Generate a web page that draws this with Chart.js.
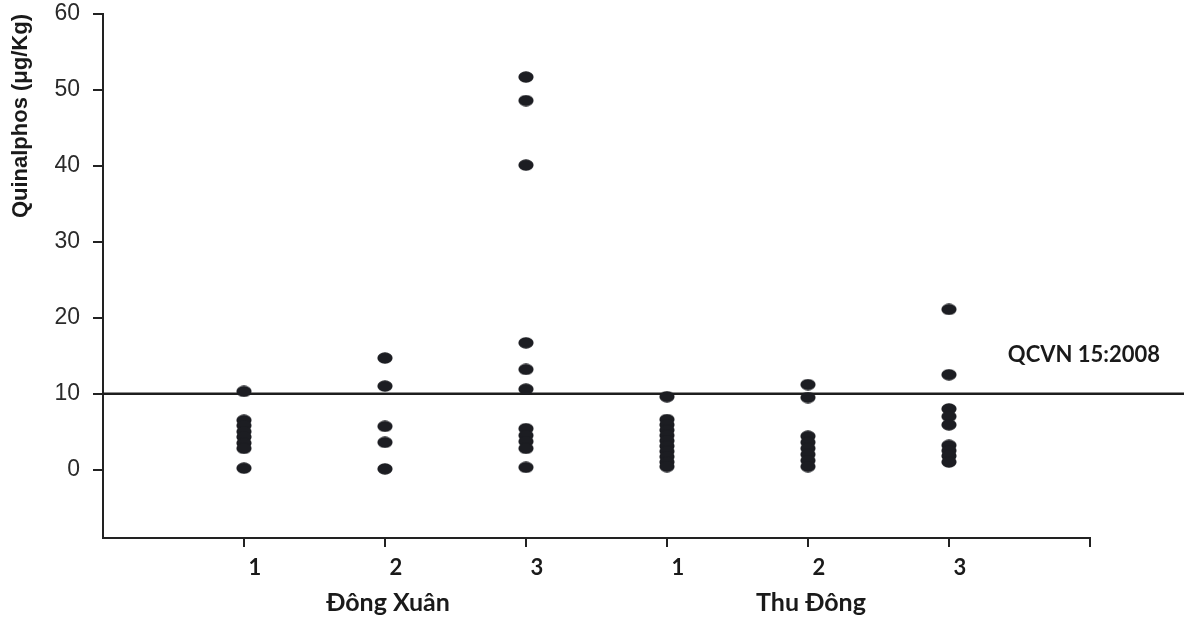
<!DOCTYPE html>
<html><head><meta charset="utf-8">
<script src="https://cdn.jsdelivr.net/npm/chart.js@4/dist/chart.umd.min.js"></script>
<style>html,body{margin:0;padding:0;background:#fff;}#wrap{width:1184px;height:617px;position:relative;}</style>
</head><body><div id="wrap"><canvas id="c"></canvas></div>
<script>
// ---- data ----
const categories = ['1', '2', '3', '1', '2', '3'];
const groups = ['Đông Xuân', 'Thu Đông'];
const groupCenters = [2, 5];
const dongXuan1 = [10.3, 6.5, 5.8, 5.0, 4.3, 3.5, 2.8, 0.2];
const dongXuan2 = [14.7, 11.0, 5.7, 3.6, 0.1];
const dongXuan3 = [51.7, 48.6, 40.1, 16.7, 13.2, 10.6, 5.4, 4.5, 3.7, 2.8, 0.3];
const thuDong1 = [9.6, 6.6, 5.9, 5.2, 4.5, 3.8, 3.1, 2.4, 1.7, 1.0, 0.4];
const thuDong2 = [11.2, 9.5, 4.4, 3.6, 2.8, 2.0, 1.2, 0.4];
const thuDong3 = [21.1, 12.5, 8.0, 7.0, 5.9, 3.2, 2.5, 1.8, 1.0];
const yTickValues = [0, 10, 20, 30, 40, 50, 60];
const limitValue = 10;
const limitLabel = 'QCVN 15:2008';
const yTitle = 'Quinalphos (μg/Kg)';

const seriesValues = [dongXuan1, dongXuan2, dongXuan3, thuDong1, thuDong2, thuDong3];
const points = seriesValues.flatMap((vals, i) => vals.map(v => ({ x: i + 1, y: v })));

// ellipse marker
const dot = document.createElement('canvas');
dot.width = 16; dot.height = 12;
(function () {
  const g = dot.getContext('2d');
  g.fillStyle = '#1c1d22';
  g.beginPath(); g.ellipse(8, 6, 7.6, 5.7, 0, 0, Math.PI * 2); g.fill();
})();

const ink = '#222';
const overlay = {
  id: 'overlay',
  beforeDatasetsDraw(chart) {
    const { ctx, chartArea, scales: { y } } = chart;
    const yy = y.getPixelForValue(limitValue);
    ctx.save();
    ctx.strokeStyle = '#1e1e1e'; ctx.lineWidth = 2.5;
    ctx.beginPath(); ctx.moveTo(chartArea.left, yy); ctx.lineTo(chart.width, yy); ctx.stroke();
    ctx.restore();
  },
  afterDraw(chart) {
    const { ctx, scales: { x, y } } = chart;
    ctx.save();
    ctx.fillStyle = '#1a1a1a';
    ctx.font = 'bold 22px Lato';
    ctx.textAlign = 'right'; ctx.textBaseline = 'middle';
    ctx.fillText(limitLabel, chart.width - 24, y.getPixelForValue(limitValue + 5) - 1);
    ctx.font = 'bold 25px Lato';
    ctx.textAlign = 'center';
    groups.forEach((g, i) => ctx.fillText(g, x.getPixelForValue(groupCenters[i]) + 3, 603));
    ctx.restore();
  }
};

new Chart(document.getElementById('c'), {
  type: 'scatter',
  data: { datasets: [{ data: points, pointStyle: dot, pointRadius: 6, pointHoverRadius: 6 }] },
  options: {
    responsive: true, maintainAspectRatio: false, animation: false,
    layout: { padding: { top: 14, right: 94, left: 0, bottom: 0 } },
    plugins: { legend: { display: false }, tooltip: { enabled: false } },
    scales: {
      x: {
        type: 'linear', min: 0, max: 7,
        afterBuildTicks: s => { s.ticks = [1, 2, 3, 4, 5, 6, 7].map(v => ({ value: v })); },
        afterFit: s => { s.height = 79; s.paddingLeft = 0; s.paddingRight = 0; },
        ticks: {
          callback: v => categories[v - 1] || '',
          color: '#1a1a1a', font: { family: 'Lato', size: 22, weight: 'bold' },
          padding: 8, labelOffset: 11, maxRotation: 0, autoSkip: false
        },
        grid: { drawOnChartArea: false, drawTicks: true, tickLength: 9, color: ink, lineWidth: 2 },
        border: { display: true, color: ink, width: 2 }
      },
      y: {
        type: 'linear', min: -9, max: 60,
        afterBuildTicks: s => { s.ticks = yTickValues.map(v => ({ value: v })); },
        afterFit: s => { s.width = 103; s.paddingTop = 0; s.paddingBottom = 0; },
        ticks: { color: '#2a2a2a', font: { family: 'Liberation Sans', size: 23 }, padding: 13 },
        grid: { drawOnChartArea: false, drawTicks: true, tickLength: 10, color: ink, lineWidth: 2 },
        border: { display: true, color: ink, width: 2 },
        title: {
          display: true, text: yTitle, align: 'end', color: '#1a1a1a',
          font: { family: 'Liberation Sans', size: 22, weight: 'bold' }, padding: { top: 8, bottom: 0 }
        }
      }
    }
  },
  plugins: [overlay]
});
</script></body></html>
